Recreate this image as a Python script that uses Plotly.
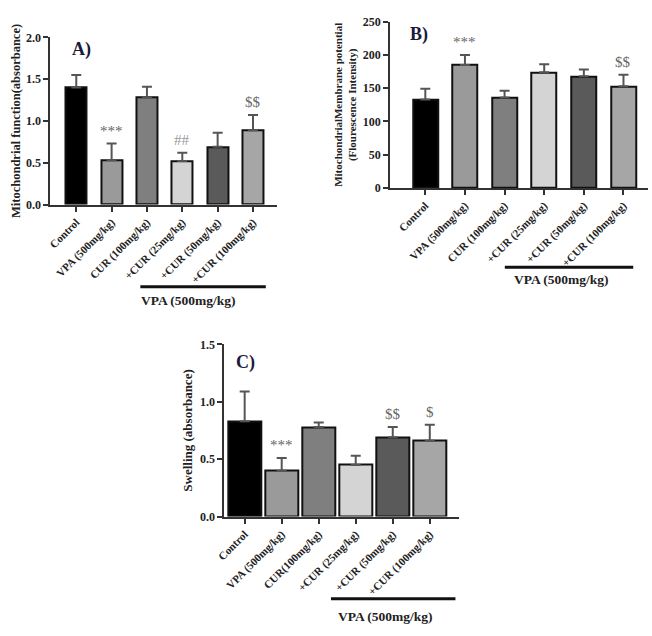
import plotly.graph_objects as go

labels_ab = ["Control", "VPA (500mg/kg)", "CUR (100mg/kg)", "+CUR (25mg/kg)", "+CUR (50mg/kg)", "+CUR (100mg/kg)"]
labels_c = ["Control", "VPA (500mg/kg)", "CUR(100mg/kg)", "+CUR (25mg/kg)", "+CUR (50mg/kg)", "+CUR (100mg/kg)"]

a_mean = [1.40, 0.53, 1.28, 0.52, 0.69, 0.89]
a_top = [1.55, 0.73, 1.41, 0.62, 0.86, 1.07]
a_marks = ["", "***", "", "##", "", "$$"]

b_mean = [133, 185, 136, 174, 168, 153]
b_top = [149, 200, 146, 186, 178, 170]
b_marks = ["", "***", "", "", "", "$$"]

c_mean = [0.83, 0.40, 0.78, 0.45, 0.69, 0.66]
c_top = [1.09, 0.51, 0.82, 0.53, 0.78, 0.80]
c_marks = ["", "***", "", "", "$$", "$"]

colors = ["#000000", "#9a9a9a", "#7f7f7f", "#d4d4d4", "#5a5a5a", "#a6a6a6"]

W, H = 652, 636
SERIF = "Liberation Serif"

fig = go.Figure()

panels = [
    dict(mean=a_mean, top=a_top, marks=a_marks, labels=labels_ab, xa="x", ya="y", width=0.6),
    dict(mean=b_mean, top=b_top, marks=b_marks, labels=labels_ab, xa="x2", ya="y2", width=0.63),
    dict(mean=c_mean, top=c_top, marks=c_marks, labels=labels_c, xa="x3", ya="y3", width=0.88),
]

annotations = []
for p in panels:
    idx = list(range(len(p["mean"])))
    err = [t - m for t, m in zip(p["top"], p["mean"])]
    fig.add_trace(go.Bar(
        x=idx, y=p["mean"], xaxis=p["xa"], yaxis=p["ya"], width=p["width"],
        marker=dict(color=colors, line=dict(color="#111111", width=2)),
        error_y=dict(type="data", symmetric=False, array=err, arrayminus=[0] * len(err),
                     color="#555555", thickness=2, width=5),
        showlegend=False,
    ))
    for i, (mk, t) in enumerate(zip(p["marks"], p["top"])):
        if mk:
            annotations.append(dict(
                x=i, y=t, xref=p["xa"], yref=p["ya"], text=mk, showarrow=False,
                yanchor="bottom", yshift=3,
                font=dict(family=SERIF, size=15, color="#666666" if mk != "##" else "#9a9a9a"),
            ))

def px_x(v):
    return v / W

def px_y(v):
    return 1 - v / H

axis_common = dict(showline=True, linecolor="#333333", linewidth=2, ticks="outside",
                   ticklen=5, tickwidth=2, tickcolor="#333333", showgrid=False, zeroline=False)
xfont = dict(family=SERIF, size=11, color="#222222", weight="bold")
yfont = dict(family=SERIF, size=12, color="#222222", weight="bold")

fig.update_layout(
    width=W, height=H, margin=dict(l=0, r=0, t=0, b=0),
    paper_bgcolor="white", plot_bgcolor="white",
    bargap=0,
    xaxis=dict(domain=[px_x(43), px_x(272)], range=[-0.73, 5.67], anchor="y",
               tickvals=list(range(6)), ticktext=labels_ab, tickangle=-45, tickfont=xfont, **axis_common),
    yaxis=dict(domain=[px_y(202), px_y(31)], range=[0, 2.0], anchor="x",
               tickvals=[0, 0.5, 1.0, 1.5, 2.0], ticktext=["0.0", "0.5", "1.0", "1.5", "2.0"],
               tickfont=yfont,
               title=dict(text="Mitochondrial function(absorbance)", standoff=3,
                          font=dict(family=SERIF, size=12.5, color="#222222", weight="bold")),
               **axis_common),
    xaxis2=dict(domain=[px_x(387), px_x(648)], range=[-0.885, 5.62], anchor="y2",
                tickvals=list(range(6)), ticktext=labels_ab, tickangle=-45, tickfont=xfont, **axis_common),
    yaxis2=dict(domain=[px_y(185), px_y(15)], range=[0, 250], anchor="x2",
                tickvals=[0, 50, 100, 150, 200, 250], tickfont=yfont,
                title=dict(text="MitochondrialMembrane potential<br>(Flourescence Intensity)", standoff=4,
                           font=dict(family=SERIF, size=11, color="#222222", weight="bold")),
                **axis_common),
    xaxis3=dict(domain=[px_x(219), px_x(457)], range=[-0.55, 5.8], anchor="y3",
                tickvals=list(range(6)), ticktext=labels_c, tickangle=-45, tickfont=xfont, **axis_common),
    yaxis3=dict(domain=[px_y(521), px_y(345)], range=[0, 1.5], anchor="x3",
                tickvals=[0, 0.5, 1.0, 1.5], ticktext=["0.0", "0.5", "1.0", "1.5"], tickfont=yfont,
                title=dict(text="Swelling (absorbance)", standoff=4,
                           font=dict(family=SERIF, size=13, color="#222222", weight="bold")),
                **axis_common),
)

# panel letters
for txt, cx, cy in [("A)", 74, 43), ("B)", 416, 28), ("C)", 240, 363)]:
    annotations.append(dict(x=px_x(cx), y=px_y(cy), xref="paper", yref="paper", text=txt,
                            showarrow=False, xanchor="center", yanchor="middle",
                            font=dict(family=SERIF, size=18, color="#1a1a3a", weight="bold")))

# group brackets
brackets = [(134, 261, 286, 133, 300), (503, 633, 266, 510, 279), (327, 453, 605, 332, 623)]
shapes = []
for x0, x1, yl, tx, ty in brackets:
    shapes.append(dict(type="line", xref="paper", yref="paper", x0=px_x(x0), x1=px_x(x1),
                       y0=px_y(yl), y1=px_y(yl), line=dict(color="#111111", width=3)))
    annotations.append(dict(x=px_x(tx), y=px_y(ty), xref="paper", yref="paper",
                            text="VPA (500mg/kg)", showarrow=False, xanchor="left", yanchor="middle",
                            font=dict(family=SERIF, size=13.5, color="#222222", weight="bold")))

fig.update_layout(annotations=annotations, shapes=shapes)
fig.write_html("out.html")
